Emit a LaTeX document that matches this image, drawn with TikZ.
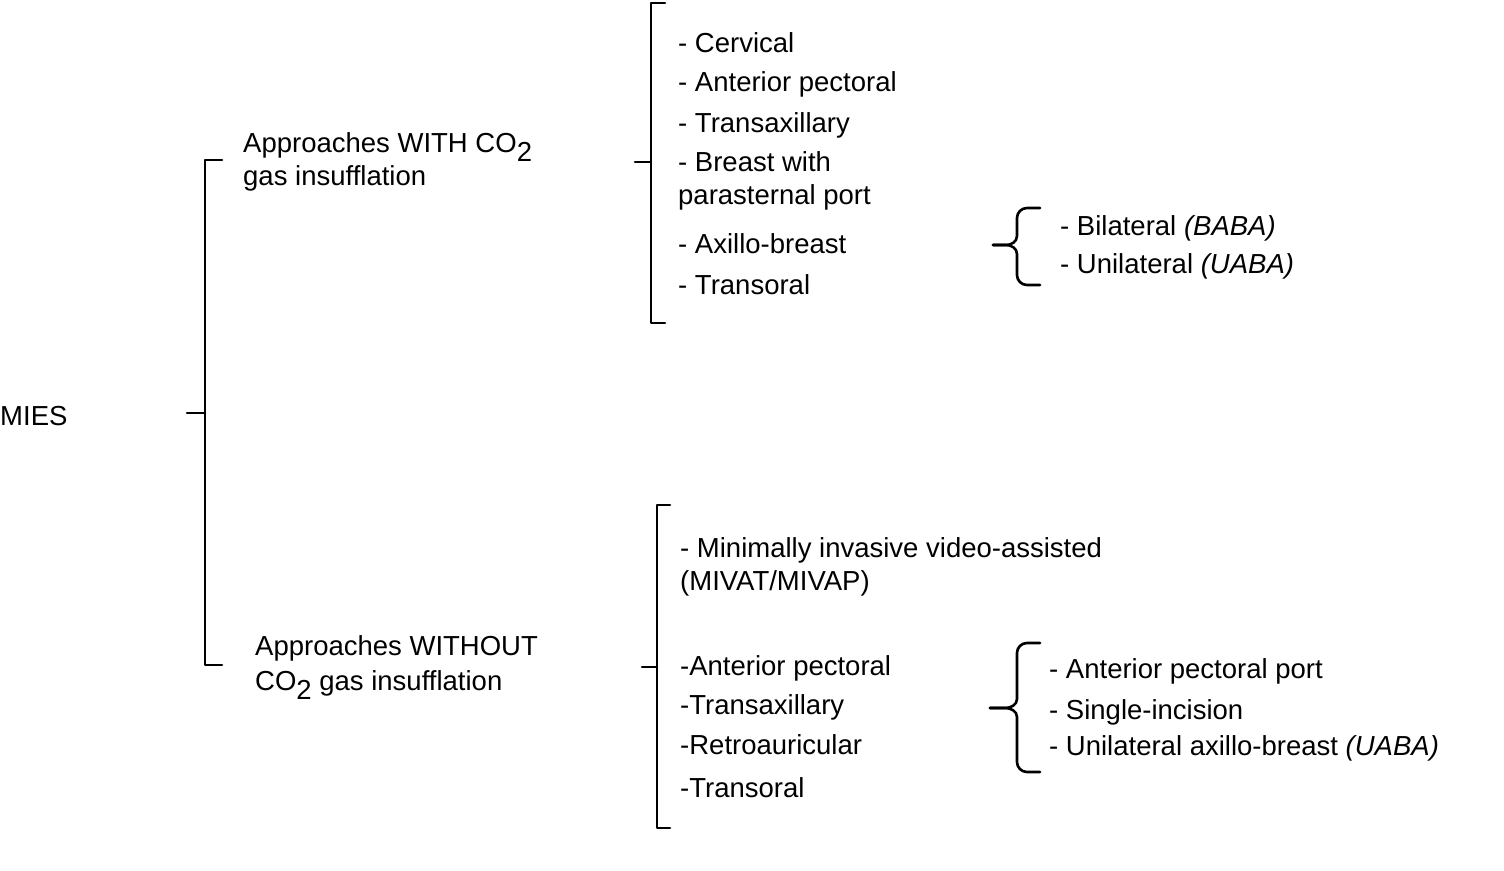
\documentclass[tikz,border=0pt]{standalone}
\usepackage{fontspec}
\setmainfont{Liberation Sans}
\newcommand{\lowtwo}{\raisebox{-9pt}{2}}
\begin{document}
\begin{tikzpicture}[x=1pt,y=-1pt,
    item/.style={anchor=base west, inner sep=0pt, align=left,
      font=\fontsize{27.5}{33}\selectfont},
    bracket/.style={line width=2.6pt, line cap=round, line join=round}]
      \useasboundingbox (0,0) rectangle (1504,870);

      % root and the two approaches (base = last line)
      \node[item] (mies) at (0,425) {MIES};
      \node[item] (with) at (243,185) {Approaches WITH CO\lowtwo\\gas insufflation};
      \node[item] (without) at (255,690) {Approaches WITHOUT\\[2pt]CO\lowtwo{} gas insufflation};

      % with CO2
      \node[item] (cerv) at (678,52) {- Cervical};
      \node[item] (antp) at (678,91) {- Anterior pectoral};
      \node[item] (trax) at (678,132) {- Transaxillary};
      \node[item] (brea) at (678,204) {- Breast with\\parasternal port};
      \node[item] (axbr) at (678,253) {- Axillo-breast};
      \node[item] (tror) at (678,294) {- Transoral};

      \node[item] (baba) at (1060,235) {- Bilateral \textit{(BABA)}};
      \node[item] (uaba) at (1060,273) {- Unilateral \textit{(UABA)}};

      % without CO2
      \node[item] (miva) at (680,590) {- Minimally invasive video-assisted\\(MIVAT/MIVAP)};
      \node[item] (antq) at (680,675) {-Anterior pectoral};
      \node[item] (trbx) at (680,714) {-Transaxillary};
      \node[item] (reta) at (680,754) {-Retroauricular};
      \node[item] (trps) at (680,797) {-Transoral};

      \node[item] (apport) at (1049,678) {- Anterior pectoral port};
      \node[item] (single) at (1049,719) {- Single-incision};
      \node[item] (unax) at (1049,755) {- Unilateral axillo-breast \textit{(UABA)}};

      % square brackets
      \coordinate (b1top) at (205,160);
      \coordinate (b1bot) at (205,665);
      \coordinate (b1mid) at (205,413);
      \draw[bracket] ([xshift=17pt]b1top) -- (b1top) -- (b1bot) -- ([xshift=17pt]b1bot);
      \draw[bracket] ([xshift=-18pt]b1mid) -- (b1mid);

      \coordinate (b2top) at (651,3);
      \coordinate (b2bot) at (651,323);
      \coordinate (b2mid) at (651,162);
      \draw[bracket] ([xshift=14pt]b2top) -- (b2top) -- (b2bot) -- ([xshift=14pt]b2bot);
      \draw[bracket] ([xshift=-16pt]b2mid) -- (b2mid);

      \coordinate (b4top) at (657,505);
      \coordinate (b4bot) at (657,828);
      \coordinate (b4mid) at (657,667);
      \draw[bracket] ([xshift=13pt]b4top) -- (b4top) -- (b4bot) -- ([xshift=13pt]b4bot);
      \draw[bracket] ([xshift=-15pt]b4mid) -- (b4mid);

      % curly brackets
      \coordinate (c3tip) at (993,245);
      \draw[bracket] (1040,208) -- (1027,208) to[out=180,in=90] (1017,218) -- (1017,236)
        to[out=-90,in=0] (1006,245) -- (c3tip);
      \draw[bracket] (c3tip) -- (1006,245) to[out=0,in=90] (1017,254) -- (1017,275)
        to[out=-90,in=180] (1027,285) -- (1040,285);

      \coordinate (c5tip) at (990,708);
      \draw[bracket] (1040,643) -- (1027,643) to[out=180,in=90] (1017,653) -- (1017,699)
        to[out=-90,in=0] (1005,708) -- (c5tip);
      \draw[bracket] (c5tip) -- (1005,708) to[out=0,in=90] (1017,717) -- (1017,762)
        to[out=-90,in=180] (1027,772) -- (1040,772);

      % \draw[help lines] (0,0) grid[step=100] (1504,870);
\end{tikzpicture}
\end{document}
